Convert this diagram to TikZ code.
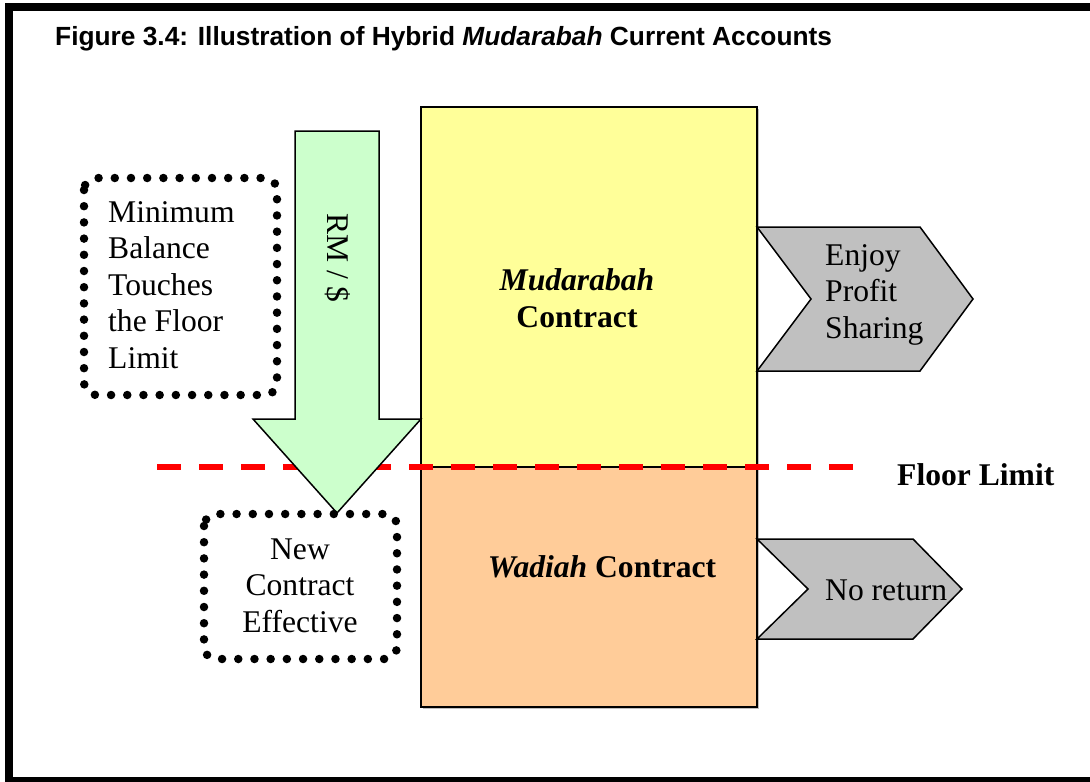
\documentclass[tikz,border=0pt]{standalone}
\usepackage{fontspec}
\setmainfont{Liberation Serif}
\setsansfont{Liberation Sans}
\definecolor{mudyellow}{HTML}{FFFF99}
\definecolor{wadorange}{HTML}{FFCC99}
\definecolor{flowgreen}{HTML}{CCFFCC}
\definecolor{chevgray}{HTML}{C0C0C0}
\definecolor{floorred}{HTML}{FF0000}
\begin{document}
\begin{tikzpicture}[x=1pt,y=-1pt,
  bigtext/.style={font=\fontsize{31.6}{36.5}\selectfont, inner sep=0pt},
  boldtext/.style={font=\bfseries\fontsize{31.6}{36.5}\selectfont, inner sep=0pt},
  dotbox/.style={draw=black, line width=8.5pt, line cap=round,
    dash pattern=on 0pt off 16.2pt, rounded corners=12pt},
  contractbox/.style={draw=black, line width=2pt},
  chevron/.style={draw=black, fill=chevgray, line width=1.5pt, line join=miter},
  floorline/.style={draw=floorred, line width=5.5pt, dash pattern=on 24pt off 18pt}]
  \useasboundingbox (0,0) rectangle (1090,782);
  % outer frame (its right side falls outside the page)
  \begin{scope}
    \clip (0,0) rectangle (1090,782);
    \draw[line width=8pt] (8.5,7) rectangle (1100,780.5);
  \end{scope}
  % title
  \node[font=\sffamily\bfseries\fontsize{26.3}{30}\selectfont, anchor=base west, inner sep=0pt]
    (title) at (55,45) {Figure 3.4: Illustration of Hybrid \textit{Mudarabah} Current Accounts};
  % the two contract blocks with a light shadow
  \fill[black!25] (423,109) rectangle (759,709);
  \fill[mudyellow] (421,107) rectangle (757,467);
  \fill[wadorange] (421,467) rectangle (757,707);
  \draw[contractbox] (421,107) rectangle (757,707);
  \draw[contractbox] (421,467) -- (757,467);
  % multi-line nodes: the base anchor sits on the last line
  \node[boldtext, align=center, anchor=base] (mud) at (577,327) {\textit{Mudarabah}\\Contract};
  \node[boldtext, anchor=base] (wad) at (602,577) {\textit{Wadiah} Contract};
  % floor limit
  \coordinate (floorL) at (157,467);
  \coordinate (floorR) at (853,467);
  \draw[floorline] (floorL) -- (floorR);
  \node[boldtext, anchor=base west] (floor) at (897,485) {Floor Limit};
  % downward block arrow
  \draw[fill=flowgreen, line width=1.5pt, line join=miter]
    (295,131) -- (379,131) -- (379,419) -- (421,419) -- (337,513) -- (253,419) -- (295,419) -- cycle;
  \node[bigtext, rotate=-90] (rm) at (338,258) {RM / \$};
  % dotted note boxes
  \draw[dotbox] (84,178) rectangle (277,395);
  \node[bigtext, align=left, anchor=base west] (minbal) at (108,368)
    {Minimum\\Balance\\Touches\\the Floor\\Limit};
  \draw[dotbox] (204,514) rectangle (397,659);
  \node[bigtext, align=center, anchor=base] (newc) at (300,632)
    {New\\Contract\\Effective};
  % outcome chevrons
  \draw[chevron] (757,227) -- (920,227) -- (973,299) -- (920,371) -- (757,371) -- (811,299) -- cycle;
  \node[bigtext, align=left, anchor=base west] (profit) at (825,338) {Enjoy\\Profit\\Sharing};
  \draw[chevron] (757,539) -- (913,539) -- (962,589) -- (913,639) -- (757,639) -- (808,589) -- cycle;
  \node[bigtext, anchor=base west] (noret) at (825,600) {No return};
\end{tikzpicture}
\end{document}
